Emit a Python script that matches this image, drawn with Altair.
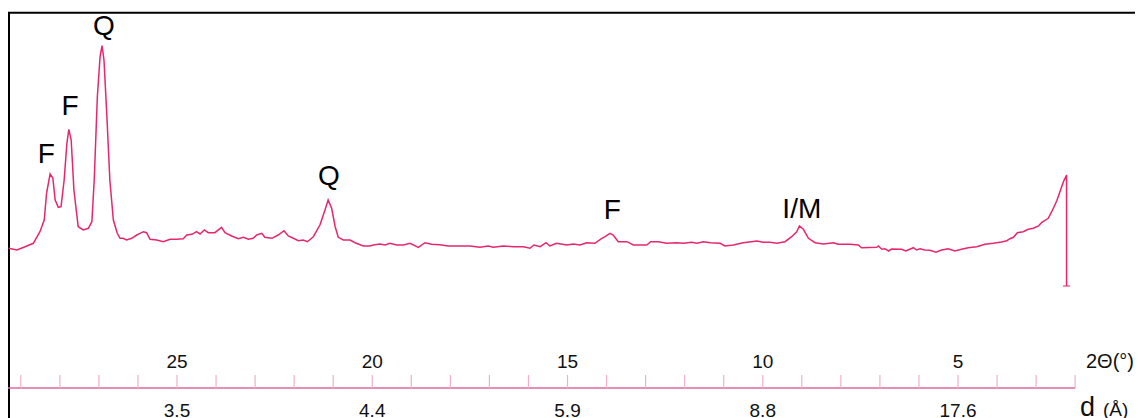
import altair as alt
import pandas as pd

# ---- pattern (2-theta in degrees, intensity in arbitrary counts) ----
two_theta = [29.31, 29.10, 28.89, 28.68, 28.51, 28.40, 28.34, 28.25, 28.18, 28.12,
             28.04, 27.97, 27.89, 27.82, 27.77, 27.71, 27.64, 27.53, 27.40, 27.27,
             27.18, 27.12, 27.04, 26.97, 26.92, 26.87, 26.80, 26.72, 26.63, 26.53,
             26.46, 26.38, 26.29, 26.16, 26.03, 25.86, 25.78, 25.69, 25.52, 25.35,
             25.18, 25.01, 24.84, 24.75, 24.62, 24.50, 24.41, 24.30, 24.20, 24.03,
             23.86, 23.77, 23.60, 23.43, 23.30, 23.17, 23.05, 22.96, 22.83, 22.75,
             22.57, 22.41, 22.26, 22.15, 22.02, 21.89, 21.77, 21.66, 21.51, 21.34,
             21.21, 21.13, 21.04, 20.95, 20.87, 20.74, 20.57, 20.44, 20.23, 20.06,
             19.97, 19.80, 19.67, 19.55, 19.37, 19.20, 19.03, 18.82, 18.65, 18.48,
             18.27, 18.05, 17.75, 17.50, 17.24, 17.03, 16.90, 16.64, 16.39, 16.13,
             15.96, 15.86, 15.70, 15.55, 15.45, 15.28, 15.02, 14.85, 14.68, 14.51,
             14.30, 14.12, 14.04, 13.91, 13.83, 13.70, 13.48, 13.31, 12.97, 12.87,
             12.67, 12.46, 12.20, 12.03, 11.82, 11.69, 11.52, 11.35, 11.09, 10.97,
             10.75, 10.50, 10.15, 9.99, 9.81, 9.64, 9.43, 9.26, 9.13, 9.06,
             8.96, 8.83, 8.66, 8.45, 8.19, 8.07, 7.77, 7.55, 7.47, 7.08,
             7.04, 6.95, 6.87, 6.78, 6.70, 6.44, 6.34, 6.14, 6.06, 5.97,
             5.85, 5.72, 5.56, 5.42, 5.25, 5.08, 4.91, 4.74, 4.52, 4.31,
             4.10, 3.88, 3.75, 3.67, 3.58, 3.48, 3.33, 3.20, 3.07, 2.94,
             2.86, 2.69, 2.60, 2.47, 2.39, 2.30, 2.22, 2.22]
intensity = [417, 400, 433, 467, 583, 700, 970, 1160, 1120, 900,
             827, 833, 1100, 1467, 1607, 1500, 1000, 633, 600, 617,
             683, 1100, 1933, 2333, 2443, 2300, 1770, 1100, 700, 567,
             517, 517, 500, 517, 550, 583, 573, 507, 500, 483,
             507, 507, 513, 550, 557, 583, 560, 600, 573, 573,
             627, 573, 540, 513, 527, 507, 517, 550, 567, 527,
             517, 550, 593, 540, 517, 493, 500, 483, 533, 650,
             800, 900, 817, 633, 527, 500, 500, 473, 440, 440,
             450, 460, 450, 467, 450, 450, 467, 427, 473, 457,
             453, 440, 440, 440, 427, 440, 427, 440, 433, 433,
             417, 450, 433, 473, 440, 467, 450, 460, 450, 473,
             467, 517, 533, 567, 550, 483, 483, 450, 450, 483,
             483, 467, 473, 467, 477, 467, 483, 473, 467, 440,
             450, 473, 490, 477, 477, 467, 483, 533, 583, 640,
             607, 517, 473, 460, 473, 457, 457, 450, 423, 427,
             440, 407, 413, 390, 410, 407, 390, 423, 400, 413,
             400, 397, 377, 400, 413, 390, 407, 423, 433, 457,
             467, 480, 493, 513, 527, 573, 583, 607, 617, 640,
             673, 717, 783, 893, 983, 1083, 1150, 40]

# ---- peak labels ----
peak_text = ["F", "F", "Q", "Q", "F", "I/M"]
peak_2theta = [28.35, 27.74, 26.87, 21.11, 13.85, 9.00]
peak_level = [1273, 1750, 2550, 1050, 710, 717]

# ---- axis ----
tick_values = list(range(29, 1, -1))
label_2theta = [25, 20, 15, 10, 5]
label_d = ["3.5", "4.4", "5.9", "8.8", "17.6"]
axis_start = 29.328
axis_end = 2

LINE = "#e5286e"
AXIS = "#e0699c"
TICK = "#f0b0cc"
FONT = "Liberation Sans"

xs = alt.Scale(domain=[29.328, 0.4673], nice=False, zero=False)
ys = alt.Scale(domain=[-1280, 2820], nice=False, zero=False)

pattern = pd.DataFrame({"i": range(len(two_theta)), "t": two_theta, "c": intensity})
X = alt.X("t:Q", scale=xs, axis=None)
Y = alt.Y("c:Q", scale=ys, axis=None)

line = alt.Chart(pattern).mark_line(color=LINE, strokeWidth=1.5).encode(
    x=X, y=Y, order="i:Q")

cap = alt.Chart(pattern.tail(1)).mark_tick(
    color=LINE, orient="horizontal", size=7, thickness=1.5).encode(x=X, y=Y)

peaks = alt.Chart(pd.DataFrame({"label": peak_text, "t": peak_2theta, "c": peak_level})
                  ).mark_text(font=FONT, fontSize=28, color="black", align="center",
                              baseline="alphabetic").encode(x=X, y=Y, text="label:N")

one = pd.DataFrame({"a": [0]})
axis_line = alt.Chart(pd.DataFrame({"t": [axis_start], "t2": [axis_end]})).mark_rule(
    color=AXIS, strokeWidth=1.6).encode(
    x=X, x2="t2:Q", y=alt.value(380))

ticks = alt.Chart(pd.DataFrame({"t": tick_values})).mark_rule(
    color=TICK, strokeWidth=1.2).encode(
    x=X, y=alt.value(367), y2=alt.value(380))

lab_t = alt.Chart(pd.DataFrame({"t": label_2theta, "s": [str(v) for v in label_2theta]})
                  ).mark_text(font=FONT, fontSize=19, color="#111", align="center",
                              baseline="alphabetic").encode(
    x=X, y=alt.value(360), text="s:N")

lab_d = alt.Chart(pd.DataFrame({"t": label_2theta, "s": label_d})
                  ).mark_text(font=FONT, fontSize=19, color="#111", align="center",
                              baseline="alphabetic").encode(
    x=X, y=alt.value(409), text="s:N")

title_t = alt.Chart(one).mark_text(font=FONT, fontSize=20, color="#111", align="left",
                                   baseline="alphabetic", text="2\u0398(\u00b0)").encode(
    x=alt.value(1078), y=alt.value(360))
title_d1 = alt.Chart(one).mark_text(font=FONT, fontSize=27, color="#111", align="left",
                                    baseline="alphabetic", text="d").encode(
    x=alt.value(1072), y=alt.value(408))
title_d2 = alt.Chart(one).mark_text(font=FONT, fontSize=19, color="#111", align="left",
                                    baseline="alphabetic", text="(\u00c5)").encode(
    x=alt.value(1095), y=alt.value(408))

border = alt.Chart(one).mark_rect(fill="transparent", stroke="black", strokeWidth=2).encode(
    x=alt.value(1), x2=alt.value(1400), y=alt.value(4.7), y2=alt.value(700))

chart = alt.layer(border, axis_line, ticks, line, cap, peaks, lab_t, lab_d,
                  title_t, title_d1, title_d2).properties(
    width=1127, height=410,
    autosize=alt.AutoSizeParams(type="none"),
    padding={"left": 0, "top": 0, "right": 0, "bottom": 0},
    background="white",
).configure_view(stroke=None)

chart.save("out.html", embed_options={"renderer": "svg", "actions": False})
